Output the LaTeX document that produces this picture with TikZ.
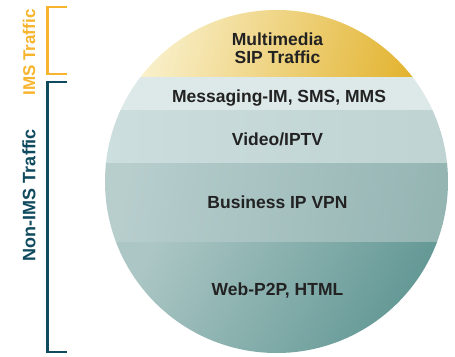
\documentclass[tikz,border=0pt]{standalone}
\usepackage{fontspec}
\setmainfont{Liberation Sans}
\definecolor{imsgold}{HTML}{F7B42C}
\definecolor{nonims}{HTML}{0F4A5E}
\definecolor{goldA}{HTML}{FBF6DA}
\definecolor{goldB}{HTML}{E2B12A}
\definecolor{msgC}{HTML}{DDE9E8}
\definecolor{vidA}{HTML}{CCDEDD}
\definecolor{vidB}{HTML}{BED3D2}
\definecolor{busA}{HTML}{B7CECD}
\definecolor{busB}{HTML}{95B5B3}
\definecolor{webA}{HTML}{ABC6C4}
\definecolor{webB}{HTML}{5E9592}
\definecolor{txt}{HTML}{222222}
\tikzset{
  lbl/.style={font=\bfseries\fontsize{17.5}{18}\selectfont, text=txt, align=center, inner sep=0pt, anchor=base},
  side/.style={font=\bfseries, rotate=90, inner sep=0pt},
  brk/.style={line width=2.2pt}
}
\begin{document}
\begin{tikzpicture}[x=1pt,y=-1pt]
\useasboundingbox (0,0) rectangle (455,356);
\fill[white] (0,0) rectangle (455,356);
\begin{scope}
\clip (276.5,181.5) circle (171.5);
\shade[left color=goldA, right color=goldB, shading angle=75] (100,5) rectangle (455,77);
\fill[msgC] (100,77) rectangle (455,110);
\shade[left color=vidA, right color=vidB] (100,110) rectangle (455,163);
\shade[left color=busA, right color=busB, shading angle=80] (100,163) rectangle (455,242);
\shade[left color=webA, right color=webB, shading angle=60] (100,242) rectangle (455,356);
\end{scope}
\node[lbl] (mm) at (277.5,63) {Multimedia\\SIP Traffic};
\node[lbl] (msg) at (279,102) {Messaging-IM, SMS, MMS};
\node[lbl] (vid) at (277.5,145) {Video/IPTV};
\node[lbl] (bus) at (277.5,208) {Business IP VPN};
\node[lbl] (web) at (277.5,295) {Web-P2P, HTML};
\coordinate (i1) at (67,7);
\coordinate (i2) at (47.5,7);
\coordinate (i3) at (47.5,74);
\coordinate (i4) at (67,74);
\draw[brk, imsgold] (i1) -- (i2) -- (i3) -- (i4);
\coordinate (n1) at (67,82);
\coordinate (n2) at (47.5,82);
\coordinate (n3) at (47.5,352);
\coordinate (n4) at (67,352);
\draw[brk, nonims] (n1) -- (n2) -- (n3) -- (n4);
\node[side, text=imsgold, font=\bfseries\fontsize{17}{18}\selectfont] (ims) at (29,52.5) {IMS Traffic};
\node[side, text=nonims, font=\bfseries\fontsize{18}{19}\selectfont] (non) at (29,195) {Non-IMS Traffic};
\end{tikzpicture}
\end{document}
